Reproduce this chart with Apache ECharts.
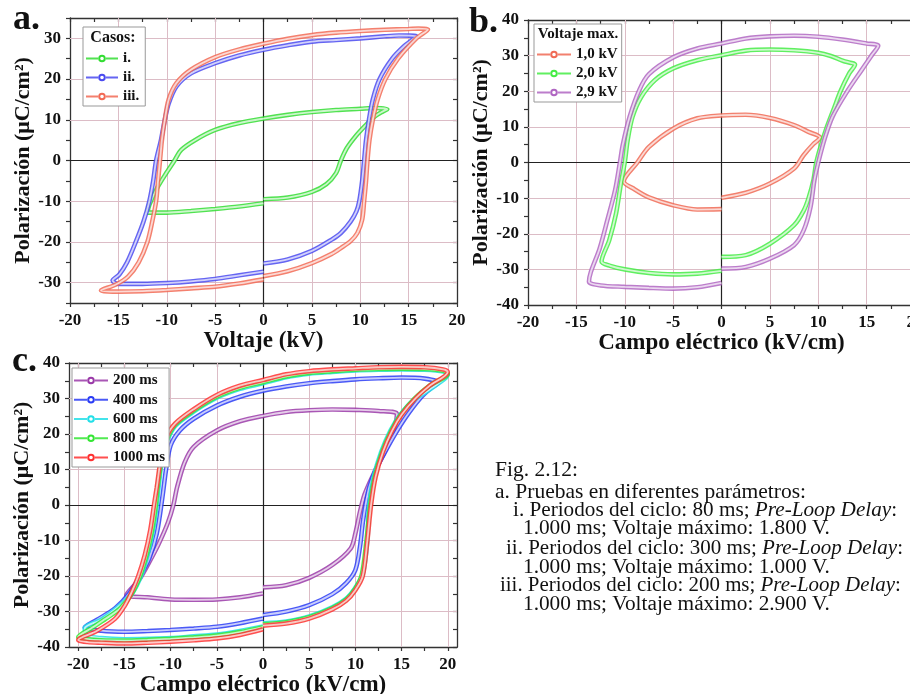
<!DOCTYPE html>
<html><head><meta charset="utf-8">
<script src="https://cdn.jsdelivr.net/npm/echarts@6/dist/echarts.min.js"></script>
<style>html,body{margin:0;padding:0;background:#fff;overflow:hidden}#c{width:910px;height:694px}</style>
</head><body><div id="c"></div>
<script>
// ---------- Panel a: Voltaje (kV) vs Polarización ----------
const a_i = [[0,-9.5],[2.5,-9.1],[5,-7.7],[6.5,-5.8],[7.5,-3.1],[8,0],[8.6,3],[9.5,5.9],[10.5,8.5],[11.5,10.8],[12.3,12],[12.8,12.6],
  [11.5,12.9],[10,12.7],[7.5,12.4],[5,11.9],[2.5,11.2],[0,10.3],[-2.5,9.2],[-5,7.5],[-7,5.1],[-8.5,2.6],[-9.2,0],[-10,-2.9],[-11,-6.8],[-11.8,-10.9],[-12,-12.8],
  [-10,-12.8],[-7.5,-12.4],[-5,-11.9],[-2.5,-11.3],[0,-10.5]];
const a_ii = [[0,-25.3],[2.5,-24.3],[5,-22.2],[7,-19.5],[8,-17.8],[9,-15],[9.6,-12.5],[9.9,-10],[10.2,-5],[10.4,0],[10.6,5],[10.9,10],[11.3,15],[12,20],[13.3,25],[14.5,28],[15.8,30.5],
  [14,30.7],[12.5,30.5],[10,30],[7.5,29.6],[5,29.2],[2.5,28.3],[0,27.2],[-2.5,25.8],[-5,23.9],[-7.5,21.4],[-9,18.2],[-9.8,14],[-10.2,10],[-10.6,5],[-11.1,0],[-11.4,-5],[-11.8,-10],[-12.4,-15],[-13.2,-20],[-14.1,-25],[-14.9,-28],[-15.6,-29.5],
  [-15,-30.3],[-12.5,-30.3],[-10,-30.1],[-7.5,-29.7],[-5,-29.1],[-2.5,-28.2],[0,-27.3]];
const a_iii = [[0,-28.4],[2.5,-27.2],[5,-25.2],[7,-23],[8,-21.5],[9,-19.8],[9.7,-17.8],[10.2,-14.5],[10.4,-10],[10.6,-5],[10.75,0],[10.95,5],[11.3,10],[11.8,15],[12.6,20],[13.9,25],[15.8,30],[17,32.2],
  [16,32.4],[15,32.3],[12.5,32.1],[10,31.8],[7.5,31.4],[5,30.8],[2.5,29.9],[0,28.7],[-2.5,27.3],[-5,25.4],[-7.5,22.3],[-9,19],[-9.8,15],[-10.2,10],[-10.5,5],[-10.7,0],[-10.9,-5],[-11.1,-10],[-11.5,-15],[-12,-20],[-12.9,-25],[-14,-28.5],[-15.3,-30.5],[-16.8,-31.9],
  [-15,-32.2],[-12.5,-32.1],[-10,-31.8],[-7.5,-31.4],[-5,-31],[-2.5,-30.2],[0,-29.2]];
const a_names = ['i.','ii.','iii.'];
const a_x_ticks = [-20,-17.5,-15,-12.5,-10,-7.5,-5,-2.5,0,2.5,5,7.5,10,12.5,15,17.5,20];
const a_x_labels = [-20,-15,-10,-5,0,5,10,15,20];
const a_y_ticks = [-35,-30,-25,-20,-15,-10,-5,0,5,10,15,20,25,30,35];
const a_y_labels = [-30,-20,-10,0,10,20,30];
const a_x_grid = [-15,-10,-5,5,10,15];
const a_y_grid = [-30,-20,-10,10,20,30];

// ---------- Panel b: Campo eléctrico (kV/cm) ----------
const b_1kV = [[0,-9.9],[2.5,-8.5],[5,-5.9],[7.5,-1.7],[8.5,2.1],[9.5,5.2],[10.2,7],
  [9,8.6],[7.5,10.5],[5,12.5],[2.5,13.4],[0,13.2],[-2.5,12.4],[-5,9.5],[-7.5,4.4],[-8.7,0],[-10.1,-5.3],
  [-9,-7.5],[-7.5,-9.8],[-5,-12],[-2.5,-13.2],[0,-13.1]];
const b_2kV = [[0,-26.5],[2.5,-26],[5,-22.8],[7.5,-17.6],[8.5,-13.5],[9,-10],[9.5,-5],[9.8,0],[10.3,5],[10.9,10],[11.6,15],[12.3,20],[13.2,25],[13.8,27.5],
  [13.3,28],[12.6,28.5],[11.3,29.9],[10,30.8],[7.5,31.5],[5,31.7],[2.5,31.4],[0,30.1],[-2.5,28.7],[-5,26.4],[-6.9,23.1],[-8.3,18.4],[-9.2,12.8],[-9.7,6.3],[-10,0],[-10.4,-5.9],[-10.9,-14.3],[-11.6,-21.8],[-12.4,-27.8],
  [-11.5,-29],[-10,-30],[-7.5,-31],[-5,-31.4],[-2.5,-31.2],[0,-30.4]];
const b_29kV = [[0,-29.8],[2.5,-29.3],[5,-27],[7.5,-23.2],[8.5,-19],[9.2,-12.5],[9.6,-5],[10,0],[10.7,7],[11.5,13],[13,20],[14.5,26],[15.5,30],[16.2,32.8],
  [15,33.4],[12.5,34.5],[10,35.3],[7.5,35.6],[5,35.4],[2.5,34.8],[0,33.4],[-2.5,32],[-5,29.5],[-7.5,24.8],[-8.5,20.3],[-9.5,12.8],[-10.2,5],[-10.5,0],[-11,-7.8],[-11.8,-16.2],[-12.6,-24.2],[-13.5,-30.7],[-13.7,-33.5],
  [-12.5,-34.5],[-10,-34.9],[-7.5,-35.2],[-5,-35.4],[-2.5,-35],[0,-33.8]];
const b_names = ['1,0 kV','2,0 kV','2,9 kV'];
const b_x_ticks = [-20,-17.5,-15,-12.5,-10,-7.5,-5,-2.5,0,2.5,5,7.5,10,12.5,15,17.5,20];
const b_x_labels = [-20,-15,-10,-5,0,5,10,15,20];
const b_y_ticks = [-40,-35,-30,-25,-20,-15,-10,-5,0,5,10,15,20,25,30,35,40];
const b_y_labels = [-40,-30,-20,-10,0,10,20,30,40];
const b_x_grid = [-15,-10,-5,5,10,15];
const b_y_grid = [-30,-20,-10,10,20,30];

// ---------- Panel c: Campo eléctrico (kV/cm), periodos ----------
const c_200 = [[0,-23.2],[2.5,-22.6],[5,-20.5],[7.5,-16.9],[9.5,-12.2],[10,-8],[10.5,-1.9],[11,3],[12,8.9],[13,14.1],[14,19.9],[14.5,25.6],
  [12.5,26.5],[10,26.8],[7.5,26.9],[5,26.7],[2.5,26.2],[0,25.1],[-2.5,23.6],[-5,21],[-7.5,16.4],[-8.5,11.9],[-9.3,5],[-9.7,0],[-10.3,-5],[-11.3,-11],[-12.3,-16],[-13.4,-21],[-14.8,-25.4],
  [-12.5,-26],[-10,-26.6],[-7.5,-26.7],[-5,-26.6],[-2.5,-26],[0,-24.9]];
const c_400 = [[0,-31],[2.5,-30],[5,-28.2],[7.5,-25.1],[9,-22],[10,-18.3],[10.5,-11.7],[10.8,-5],[11.1,0],[11.5,5],[12.2,9.9],[13.2,14.9],[14.3,20],[15.5,24.9],[17,30],[18.2,33],[19,34.5],
  [17.5,35.6],[15,35.9],[12.5,35.7],[10,35.4],[7.5,34.9],[5,34.3],[2.5,33.4],[0,32.2],[-2.5,30.5],[-5,28],[-7.5,24.3],[-9,21],[-10,16.8],[-10.5,9.9],[-10.9,2],[-11.5,-8],[-12.3,-15],[-13.3,-20],[-14.5,-25],[-16,-29.1],[-18,-32.4],[-19.3,-34.5],
  [-17.5,-35.4],[-15,-35.7],[-12.5,-35.5],[-10,-35.2],[-7.5,-34.8],[-5,-34.3],[-2.5,-33.3],[0,-32]];
const c_600 = [[0,-33.3],[2.5,-32.8],[5,-31.4],[7.5,-28.8],[9,-26.4],[10,-23.3],[10.8,-19.5],[11.3,-10],[11.5,0],[12,8],[12.8,15],[13.8,21],[14.8,25.2],[16.3,29.5],[18.3,33],[20,36.8],
  [19.5,37.6],[17.5,38.1],[15,38.2],[12.5,38.1],[10,37.9],[7.5,37.5],[5,37],[2.5,36],[0,34.3],[-2.5,32.7],[-5,30.2],[-7.5,26.3],[-9.5,22.3],[-10.4,18],[-10.9,13.5],[-11.3,5],[-11.5,0],[-11.9,-7],[-12.5,-14],[-13.2,-20],[-14.2,-25],[-15.8,-29],[-17.5,-32.3],[-19.3,-34.8],
  [-19,-36.8],[-17.5,-37.5],[-15,-37.8],[-12.5,-37.7],[-10,-37.5],[-7.5,-37],[-5,-36.5],[-2.5,-35.5],[0,-34.2]];
const c_800 = [[0,-33.6],[2.5,-33],[5,-31.6],[7.5,-29],[9,-26.6],[10,-23.5],[10.7,-19.5],[11.2,-10],[11.6,0],[12.1,8],[12.9,15],[13.9,21],[14.9,25.4],[16.4,30],[18,33.6],[20,37],
  [19.5,37.8],[17.5,38.3],[15,38.4],[12.5,38.3],[10,38.1],[7.5,37.7],[5,37.2],[2.5,36.2],[0,34.6],[-2.5,33],[-5,30.5],[-7.5,26.6],[-9.5,22.6],[-10.4,18.5],[-10.9,14],[-11.4,5],[-11.6,0],[-12,-7],[-12.6,-14],[-13.3,-20],[-14.2,-25],[-15.5,-29.2],[-17,-32],[-18.5,-34.6],[-20,-37.2],
  [-19,-37.8],[-17.5,-38.1],[-15,-38.2],[-12.5,-38],[-10,-37.7],[-7.5,-37.3],[-5,-36.8],[-2.5,-35.8],[0,-34.4]];
const c_1000 = [[0,-34],[2.5,-33.4],[5,-32],[7.5,-29.4],[9,-27],[10,-24],[10.8,-20],[11.3,-10],[11.7,0],[12.2,8],[13,15],[14,21],[15,25.4],[16.5,30],[18,33.5],[20,37.5],
  [19.5,38.2],[17.5,38.8],[15,38.9],[12.5,38.8],[10,38.5],[7.5,38.2],[5,37.7],[2.5,36.8],[0,35.2],[-2.5,33.6],[-5,31],[-7.5,27],[-9.5,23],[-10.5,19],[-11,14.1],[-11.5,5],[-11.8,0],[-12.2,-7],[-12.8,-14.1],[-13.5,-20],[-14.3,-25],[-15,-28.5],[-16,-32],[-18,-35.5],[-20,-38],
  [-19,-38.6],[-17.5,-38.8],[-15,-39],[-12.5,-38.8],[-10,-38.5],[-7.5,-38.1],[-5,-37.6],[-2.5,-36.6],[0,-35]];
const c_names = ['200 ms','400 ms','600 ms','800 ms','1000 ms'];
const c_x_ticks = [-20,-17.5,-15,-12.5,-10,-7.5,-5,-2.5,0,2.5,5,7.5,10,12.5,15,17.5,20];
const c_x_labels = [-20,-15,-10,-5,0,5,10,15,20];
const c_y_ticks = [-40,-35,-30,-25,-20,-15,-10,-5,0,5,10,15,20,25,30,35,40];
const c_y_labels = [-40,-30,-20,-10,0,10,20,30,40];
const c_x_grid = [-20,-15,-10,-5,5,10,15,20];
const c_y_grid = [-30,-20,-10,10,20,30];

// ---------- Caption ----------
const captionLines = [
  '{n|Fig. 2.12:}',
  '{n|a. Pruebas en diferentes parámetros:}',
  '{n|i. Periodos del ciclo: 80 ms; }{it|Pre-Loop Delay}{n|:}',
  '{n|1.000 ms; Voltaje máximo: 1.800 V.}',
  '{n|ii. Periodos del ciclo: 300 ms; }{it|Pre-Loop Delay}{n|:}',
  '{n|1.000 ms; Voltaje máximo: 1.000 V.}',
  '{n|iii. Periodos del ciclo: 200 ms; }{it|Pre-Loop Delay}{n|:}',
  '{n|1.000 ms; Voltaje máximo: 2.900 V.}'
];

const FONT = '"Liberation Serif","Times New Roman",serif';
const PINK = '#dcbcc6';
const AX = '#333';

const chart = echarts.init(document.getElementById('c'), null, {renderer: 'canvas'});

function xPair(gi, min, max, ticks, labels, name, nameGap) {
  return [
    {type:'value', gridIndex:gi, position:'bottom', min, max,
     axisLine:{show:true, onZero:false, lineStyle:{color:AX, width:1.3}},
     axisTick:{show:true, inside:false, length:4, customValues:ticks, lineStyle:{color:AX, width:1.2}},
     axisLabel:{show:true, customValues:labels, margin:9, color:'#111', fontFamily:FONT, fontWeight:'bold', fontSize:17},
     splitLine:{show:false},
     name, nameLocation:'middle', nameGap,
     nameTextStyle:{fontFamily:FONT, fontWeight:'bold', fontSize:23, color:'#111'}},
    {type:'value', gridIndex:gi, position:'top', min, max,
     axisLine:{show:true, onZero:false, lineStyle:{color:AX, width:1.3}},
     axisTick:{show:true, inside:true, length:4, customValues:ticks, lineStyle:{color:AX, width:1.2}},
     axisLabel:{show:false}, splitLine:{show:false}}
  ];
}
function yPair(gi, min, max, ticks, labels, name, nameGap) {
  return [
    {type:'value', gridIndex:gi, position:'left', min, max,
     axisLine:{show:true, onZero:false, lineStyle:{color:AX, width:1.3}},
     axisTick:{show:true, inside:false, length:4, customValues:ticks, lineStyle:{color:AX, width:1.2}},
     axisLabel:{show:true, customValues:labels, margin:9, color:'#111', fontFamily:FONT, fontWeight:'bold', fontSize:17},
     splitLine:{show:false},
     name, nameLocation:'middle', nameGap,
     nameTextStyle:{fontFamily:FONT, fontWeight:'bold', fontSize:22, color:'#111'}},
    {type:'value', gridIndex:gi, position:'right', min, max,
     axisLine:{show:true, onZero:false, lineStyle:{color:AX, width:1.3}},
     axisTick:{show:true, inside:true, length:4, customValues:ticks, lineStyle:{color:AX, width:1.2}},
     axisLabel:{show:false}, splitLine:{show:false}}
  ];
}

function gridLines(xi, yi, xg, yg) {
  const d = [];
  xg.forEach(v => d.push({xAxis:v, lineStyle:{color:PINK, width:1, type:'solid'}}));
  yg.forEach(v => d.push({yAxis:v, lineStyle:{color:PINK, width:1, type:'solid'}}));
  d.push({xAxis:0, lineStyle:{color:'#222', width:1.2, type:'solid'}});
  d.push({yAxis:0, lineStyle:{color:'#222', width:1.2, type:'solid'}});
  return {type:'line', name:'_grid'+xi, xAxisIndex:xi, yAxisIndex:yi, data:[], z:1, silent:true,
    markLine:{silent:true, z:1, symbol:['none','none'], label:{show:false}, animation:false, data:d}};
}

const series = [];
function band(name, data, color, xi, yi) {
  series.push({type:'line', name, data, xAxisIndex:xi, yAxisIndex:yi, smooth:0.3,
    symbol:'emptyCircle', symbolSize:5, showSymbol:false, z:2,
    lineStyle:{color, width:4.6, opacity:0.85}, itemStyle:{color, borderColor:color}});
  series.push({type:'line', name:name+'_in', data, xAxisIndex:xi, yAxisIndex:yi, smooth:0.3,
    symbol:'none', showSymbol:false, z:2, silent:true,
    lineStyle:{color:'#ffffff', width:1.8, opacity:0.7}});
}

series.push(gridLines(0, 0, a_x_grid, a_y_grid));
series.push(gridLines(2, 2, b_x_grid, b_y_grid));
series.push(gridLines(4, 4, c_x_grid, c_y_grid));

band(a_names[0], a_i, '#33dd33', 0, 0);
band(a_names[1], a_ii, '#4a4af0', 0, 0);
band(a_names[2], a_iii, '#f26a55', 0, 0);

band(b_names[0], b_1kV, '#f06a55', 2, 2);
band(b_names[1], b_2kV, '#44ec44', 2, 2);
band(b_names[2], b_29kV, '#b066c2', 2, 2);

band(c_names[0], c_200, '#9a3aa8', 4, 4);
band(c_names[1], c_400, '#2a3cf5', 4, 4);
band(c_names[2], c_600, '#22dfe8', 4, 4);
band(c_names[3], c_800, '#33e633', 4, 4);
band(c_names[4], c_1000, '#ff3030', 4, 4);

function legend(names, left, top, padding, itemWidth, dash, gap) {
  return {show:true, orient:'vertical', left, top, data:names, padding, z:10,
    itemWidth, itemHeight:7, itemGap:gap, selectedMode:false,
    backgroundColor:'#fff', borderColor:'#999', borderWidth:1, borderRadius:0,
    textStyle:{fontFamily:FONT, fontWeight:'bold', fontSize:15, color:'#111'},
    lineStyle:{width:2, type:dash}};
}

const graphics = [
  {type:'text', z:100, style:{x:13, y:38, text:'a.', font:'bold 36px '+FONT, fill:'#111', verticalAlign:'bottom'}},
  {type:'text', z:100, style:{x:469, y:41, text:'b.', font:'bold 36px '+FONT, fill:'#111', verticalAlign:'bottom'}},
  {type:'text', z:100, style:{x:12, y:380, text:'c.', font:'bold 36px '+FONT, fill:'#111', verticalAlign:'bottom'}},
  {type:'text', z:100, style:{x:113, y:38, text:'Casos:', font:'bold 16px '+FONT, fill:'#111', align:'center', verticalAlign:'middle'}},
  {type:'text', z:100, style:{x:578, y:34, text:'Voltaje max.', font:'bold 15px '+FONT, fill:'#111', align:'center', verticalAlign:'middle'}}
];
const capX = [495, 495, 513, 523, 506, 523, 500, 523];
const capY = [470, 492, 510, 528, 548, 567, 586, 604];
const capSize = [21.5, 21.5, 21.2, 21.3, 21, 21.3, 20.9, 21.3];
captionLines.forEach((t, i) => {
  const fs = capSize[i];
  graphics.push({type:'text', z:100, style:{x:capX[i], y:capY[i], text:t, verticalAlign:'middle', fill:'#111',
    font:fs+'px '+FONT,
    rich:{n:{fontFamily:FONT, fontSize:fs, fill:'#111'}, it:{fontFamily:FONT, fontSize:fs, fontStyle:'italic', fill:'#111'}}}});
});

chart.setOption({
  animation:false,
  backgroundColor:'#fff',
  grid:[
    {left:70, top:18, width:387, height:285, outerBoundsMode:'none', containLabel:false},
    {left:528, top:20, width:387, height:285, outerBoundsMode:'none', containLabel:false},
    {left:69, top:363, width:388, height:284, outerBoundsMode:'none', containLabel:false}
  ],
  xAxis:[].concat(
    xPair(0, -20, 20, a_x_ticks, a_x_labels, 'Voltaje (kV)', 22),
    xPair(1, -20, 20, b_x_ticks, b_x_labels, 'Campo eléctrico (kV/cm)', 17),
    xPair(2, -21, 21, c_x_ticks, c_x_labels, 'Campo eléctrico (kV/cm)', 26)
  ),
  yAxis:[].concat(
    yPair(0, -35, 35, a_y_ticks, a_y_labels, 'Polarización (μC/cm²)', 36),
    yPair(1, -40, 40, b_y_ticks, b_y_labels, 'Polarización (μC/cm²)', 35),
    yPair(2, -40, 40, c_y_ticks, c_y_labels, 'Polarización (μC/cm²)', 36)
  ),
  legend:[
    legend(a_names, 83, 27, [24,6,2,2], 32, [12,8], 4),
    legend(b_names, 534, 24, [23,4,2,2], 34, [13,8], 4),
    legend(c_names, 72, 368, [5,4,2,1], 34, [13,8], 4.25)
  ],
  graphic:graphics,
  series
});
</script></body></html>
